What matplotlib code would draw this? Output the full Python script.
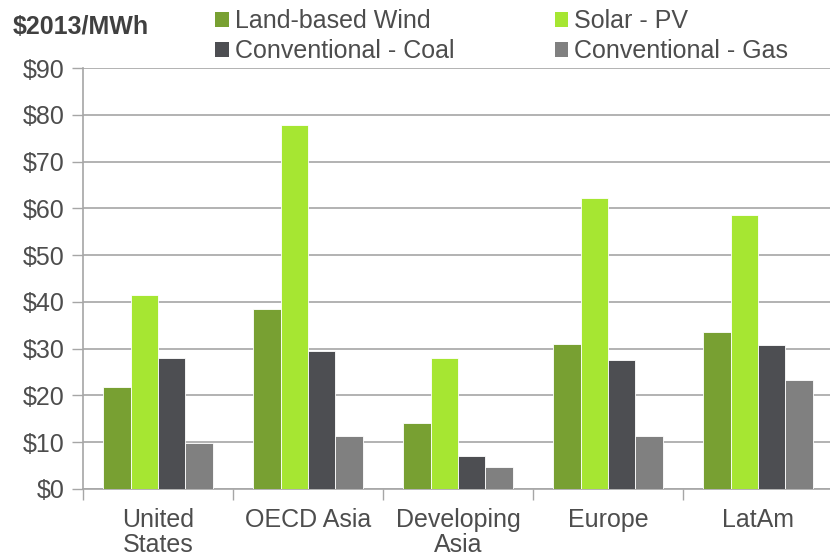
import numpy as np
import matplotlib
matplotlib.use("Agg")
import matplotlib.pyplot as plt
from matplotlib.patches import Patch
from matplotlib.ticker import StrMethodFormatter, FixedLocator

# data ($2013/MWh)
regions = ["United\nStates", "OECD Asia", "Developing\nAsia", "Europe", "LatAm"]
wind = [21.7, 38.5, 14.2, 31.1, 33.5]
solar = [41.5, 77.8, 28.1, 62.2, 58.5]
coal = [28.1, 29.4, 7.0, 27.5, 30.8]
gas = [9.8, 11.4, 4.7, 11.3, 23.4]

series_names = ["Land-based Wind", "Solar - PV", "Conventional - Coal", "Conventional - Gas"]
colors = ["#78a032", "#a6e632", "#4d4e52", "#808080"]

plt.rcParams['font.family'] = ['Liberation Sans', 'DejaVu Sans']
text_col = "#4d4d4d"
grid_col = "#a6a6a6"

fig = plt.figure(figsize=(8.3, 5.58), dpi=100)
ax = fig.add_axes([83 / 830, (558 - 489) / 558, 750 / 830, 421 / 558])

x = np.arange(len(regions))
bw = 0.182
for i, vals in enumerate([wind, solar, coal, gas]):
    ax.bar(x + (i - 1.5) * bw, vals, width=bw, color=colors[i],
           edgecolor="white", linewidth=0.6, zorder=3, label=series_names[i])

ax.set_xlim(-0.5, len(regions) - 0.5)
ax.set_ylim(0, 90)
ax.set_yticks(np.arange(0, 91, 10))
ax.yaxis.set_major_formatter(StrMethodFormatter("${x:.0f}"))
ax.grid(axis="y", color=grid_col, linewidth=1.2, zorder=0)

# category boundaries as ticks, labels centred in each slot
ax.xaxis.set_major_locator(FixedLocator(np.arange(-0.5, len(regions), 1.0)))
ax.xaxis.set_minor_locator(FixedLocator(x))
ax.set_xticklabels([])
ax.set_xticklabels(regions, minor=True, linespacing=1.04)
ax.tick_params(axis="x", which="major", length=8, width=1, color=grid_col)
ax.tick_params(axis="x", which="minor", length=0, pad=14, labelsize=18, labelcolor=text_col)
ax.tick_params(axis="y", length=8, width=1, color=grid_col, pad=5,
               labelsize=18, labelcolor=text_col)

for side in ["top", "right"]:
    ax.spines[side].set_visible(False)
for side in ["left", "bottom"]:
    ax.spines[side].set_color(grid_col)
    ax.spines[side].set_linewidth(1.2)

fig.text(13 / 830, 1 - 27 / 558, "$2013/MWh", fontsize=18, fontweight="bold",
         color="#404040", va="center", ha="left")

handles = [Patch(facecolor=c, edgecolor="none") for c in colors]
order = [0, 2, 1, 3]
fig.legend([handles[i] for i in order], [series_names[i] for i in order],
           ncol=2, loc="upper left", bbox_to_anchor=(215 / 830, 1 - 9 / 558),
           frameon=False, fontsize=18, labelcolor=text_col,
           handlelength=0.55, handleheight=0.55, handletextpad=0.25,
           columnspacing=4.0, labelspacing=0.25, borderpad=0, borderaxespad=0)

fig.savefig("out.png", dpi=100)
